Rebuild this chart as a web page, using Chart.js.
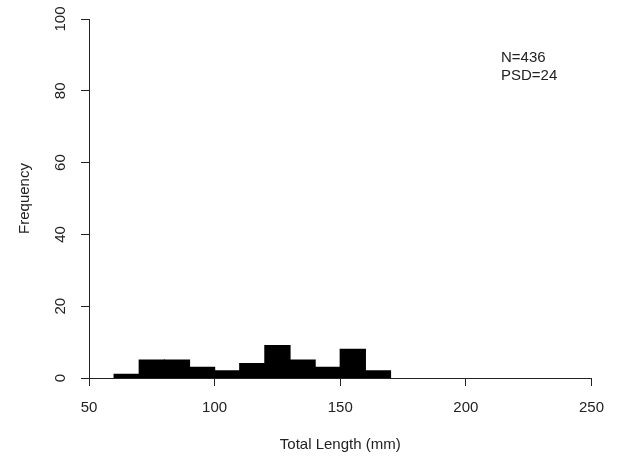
<!DOCTYPE html>
<html>
<head>
<meta charset="utf-8">
<script src="https://cdn.jsdelivr.net/npm/chart.js@4"></script>
<style>
  body { margin: 0; background: #fff; }
</style>
</head>
<body>
<canvas id="histChart" width="617" height="463"></canvas>
<script>
// bin midpoints (mm), bins are 10 mm wide
const binMids = [65, 75, 85, 95, 105, 115, 125, 135, 145, 155, 165];
const counts = [1, 5, 5, 3, 2, 4, 9, 5, 3, 8, 2];
const xTicks = [50, 100, 150, 200, 250];
const yTicks = [0, 20, 40, 60, 80, 100];
const notes = ["N=436", "PSD=24"];

const font = "'Liberation Sans', Arial, sans-serif";
const ink = "#222";
const fsize = 15;

// y labels in R are turned sideways, so draw them ourselves
const sideLabels = {
  id: "sideLabels",
  afterDraw(chart) {
    const ctx = chart.ctx;
    const y = chart.scales.y;
    ctx.save();
    ctx.fillStyle = ink;
    ctx.font = fsize + "px " + font;
    ctx.textAlign = "center";
    ctx.textBaseline = "middle";
    y.ticks.forEach((t, i) => {
      const py = y.getPixelForTick(i);
      ctx.save();
      ctx.translate(61, py);
      ctx.rotate(-Math.PI / 2);
      ctx.fillText(String(t.value), 0, 0);
      ctx.restore();
    });

    // N / PSD note top right
    ctx.textAlign = "left";
    notes.forEach((txt, i) => {
      ctx.fillText(txt, 501, 58 + i * 18);
    });
    ctx.restore();
  }
};

new Chart(document.getElementById("histChart"), {
  type: "bar",
  data: {
    datasets: [{
      data: binMids.map((m, i) => ({ x: m, y: counts[i] })),
      backgroundColor: "#000",
      borderWidth: 0,
      inflateAmount: 0.6,
      barPercentage: 1,
      categoryPercentage: 1
    }]
  },
  options: {
    responsive: false,
    animation: false,
    devicePixelRatio: 1,
    layout: { padding: { top: 19, right: 24, bottom: 0, left: 0 } },
    plugins: { legend: { display: false }, tooltip: { enabled: false } },
    scales: {
      x: {
        type: "linear",
        min: 50,
        max: 250,
        offset: false,
        afterBuildTicks: s => { s.ticks = xTicks.map(v => ({ value: v })); },
        afterFit: s => { s.height = 85; },
        grid: { display: true, offset: false, drawOnChartArea: false, drawTicks: true, tickLength: 8, color: ink },
        border: { display: true, color: ink, width: 1 },
        ticks: { color: ink, font: { family: font, size: fsize }, padding: 13, maxRotation: 0 },
        title: { display: true, text: "Total Length (mm)", color: ink, font: { family: font, size: fsize }, padding: { top: 0, bottom: 9 } }
      },
      y: {
        min: 0,
        max: 100,
        afterBuildTicks: s => { s.ticks = yTicks.map(v => ({ value: v })); },
        afterFit: s => { s.width = 89; },
        grid: { display: true, drawOnChartArea: false, drawTicks: true, tickLength: 8, color: ink },
        border: { display: true, color: ink, width: 1 },
        ticks: { display: false },
        title: { display: true, text: "Frequency", color: ink, font: { family: font, size: fsize }, padding: { top: 16, bottom: 0 } }
      }
    }
  },
  plugins: [sideLabels]
});
</script>
</body>
</html>
